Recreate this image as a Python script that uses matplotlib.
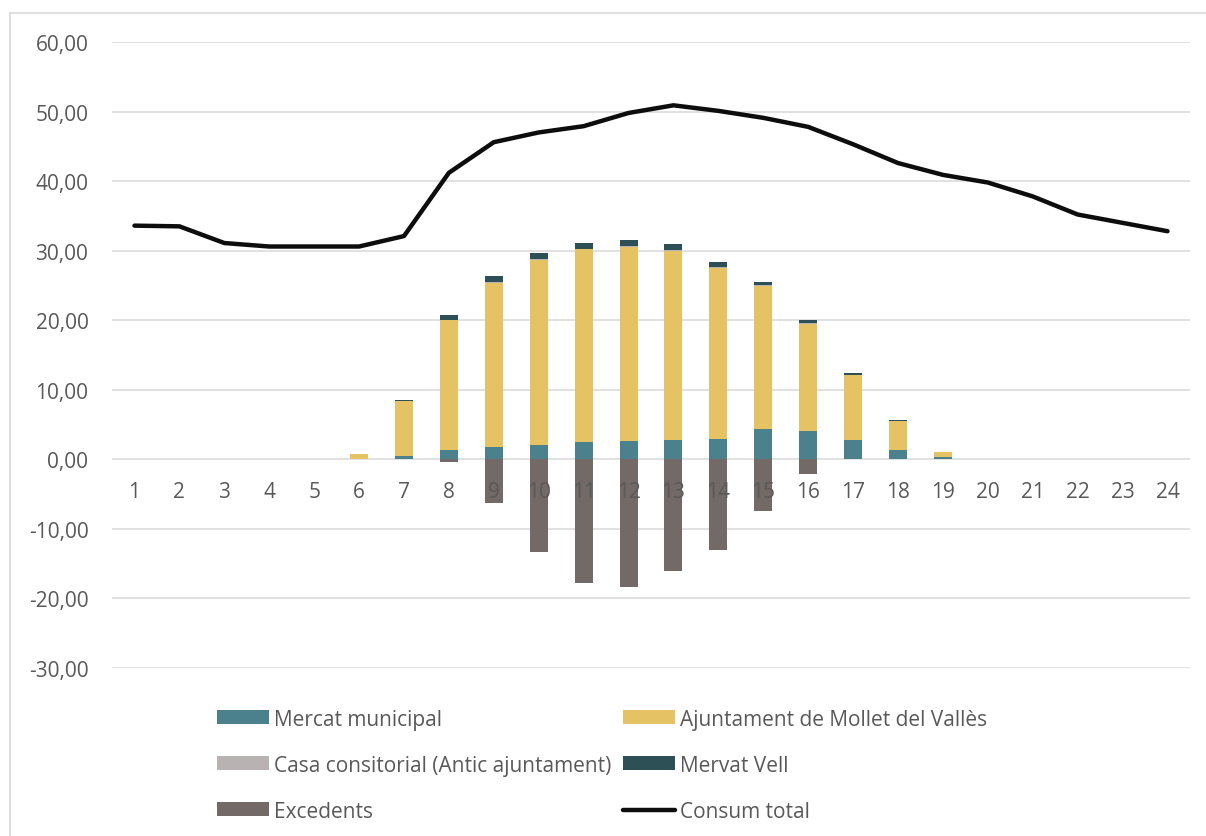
import matplotlib.pyplot as plt
import numpy as np
from matplotlib.lines import Line2D
from matplotlib.ticker import FuncFormatter

plt.rcParams['font.family'] = ['Open Sans', 'DejaVu Sans']

# Dades horàries (kWh)
hores = list(range(1, 25))
mercat_municipal = [0, 0, 0, 0, 0, 0.05, 0.5, 1.3, 1.8, 2.0, 2.5, 2.6,
                    2.8, 2.9, 4.3, 4.1, 2.8, 1.4, 0.3, 0.05, 0, 0, 0, 0]
ajuntament = [0, 0, 0, 0, 0, 0.65, 7.9, 18.7, 23.6, 26.7, 27.7, 28.0,
              27.2, 24.6, 20.6, 15.4, 9.3, 4.1, 0.7, 0.05, 0, 0, 0, 0]
casa_consistorial = [0, 0, 0, 0, 0, 0, 0, 0.1, 0.1, 0.1, 0.1, 0.1,
                     0.1, 0.1, 0.1, 0.1, 0, 0, 0, 0, 0, 0, 0, 0]
mercat_vell = [0, 0, 0, 0, 0, 0, 0.2, 0.6, 0.8, 0.8, 0.8, 0.8,
               0.8, 0.8, 0.5, 0.5, 0.3, 0.1, 0, 0, 0, 0, 0, 0]
excedents = [0, 0, 0, 0, 0, 0, 0, -0.4, -6.3, -13.3, -17.8, -18.4,
             -16.0, -13.1, -7.4, -2.1, 0, 0, 0, 0, 0, 0, 0, 0]
consum_total = [33.6, 33.5, 31.1, 30.6, 30.6, 30.6, 32.1, 41.2, 45.6, 47.0, 47.9, 49.8,
                50.9, 50.1, 49.1, 47.8, 45.3, 42.6, 40.9, 39.8, 37.8, 35.2, 34.0, 32.8]

c_mercat = '#4A818C'
c_ajunt = '#E5C365'
c_casa = '#B8B2B2'
c_vell = '#2C5056'
c_exc = '#736967'
c_text = '#595959'
c_grid = '#D9D9D9'
fs = 15

fig = plt.figure(figsize=(12.06, 8.37), dpi=100)
ax = fig.add_axes([0.0929, 0.2007, 0.8938, 0.7479])

x = np.array(hores)
w = 0.4
b1 = np.array(mercat_municipal)
b2 = b1 + np.array(ajuntament)
b3 = b2 + np.array(casa_consistorial)
h1 = ax.bar(x, mercat_municipal, w, color=c_mercat, label='Mercat municipal', zorder=3)
h2 = ax.bar(x, ajuntament, w, bottom=b1, color=c_ajunt, label='Ajuntament de Mollet del Vallès', zorder=3)
h3 = ax.bar(x, casa_consistorial, w, bottom=b2, color=c_casa, label='Casa consitorial (Antic ajuntament)', zorder=3)
h4 = ax.bar(x, mercat_vell, w, bottom=b3, color=c_vell, label='Mervat Vell', zorder=3)
h5 = ax.bar(x, excedents, w, color=c_exc, label='Excedents', zorder=3)
h6, = ax.plot(x, consum_total, color='#0D0D0D', linewidth=3.2, solid_capstyle='round',
              solid_joinstyle='round', label='Consum total', zorder=4)

ax.set_xlim(0.5, 24.5)
ax.set_ylim(-30, 60)
ax.set_yticks(np.arange(-30, 61, 10))
ax.yaxis.set_major_formatter(FuncFormatter(lambda v, p: f'{v:.2f}'.replace('.', ',')))
ax.tick_params(axis='y', length=0, pad=17, labelsize=fs, labelcolor=c_text)
ax.tick_params(axis='x', length=0, labelbottom=False)
ax.grid(axis='y', color=c_grid, linewidth=1.1, zorder=0)
for s in ax.spines.values():
    s.set_visible(False)

# etiquetes de l'eix X just sota el zero
for h in hores:
    ax.annotate(str(h), xy=(h, 0), xytext=(0, -32), textcoords='offset pixels',
                ha='center', va='center', fontsize=fs, color=c_text)

# llegenda en dues columnes, ordre per files
handles = [h1, h3, h5, h2, h4, h6]
labels = [h.get_label() for h in handles]
leg = fig.legend(handles, labels, ncol=2, loc='upper left', bbox_to_anchor=(0.173, 0.162),
                 frameon=False, fontsize=fs, handlelength=2.5, handleheight=0.65,
                 handletextpad=0.25, columnspacing=0.55, labelspacing=1.2, borderaxespad=0)
for t in leg.get_texts():
    t.set_color(c_text)

# marc de l'àrea del gràfic
fig.add_artist(Line2D([10 / 1206, 1], [1 - 14 / 837, 1 - 14 / 837], transform=fig.transFigure,
                      color=c_grid, linewidth=1.2))
fig.add_artist(Line2D([10 / 1206, 10 / 1206], [0, 1 - 14 / 837], transform=fig.transFigure,
                      color=c_grid, linewidth=1.2))

fig.savefig('out.png', dpi=100)
